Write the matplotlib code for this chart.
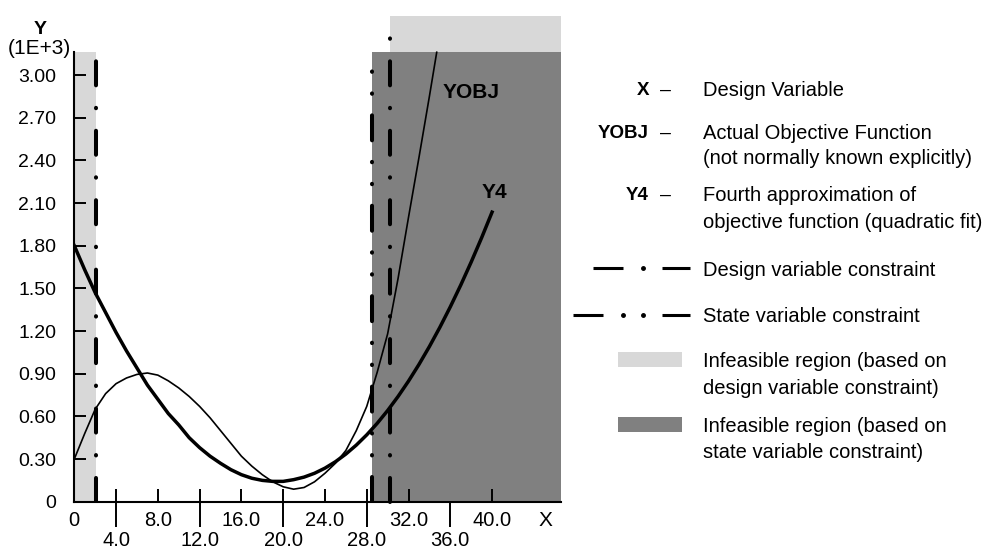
import matplotlib
matplotlib.use("Agg")
import matplotlib.pyplot as plt
from matplotlib.patches import Rectangle

plt.rcParams['font.family'] = ['Liberation Sans', 'DejaVu Sans']
plt.rcParams['lines.scale_dashes'] = False

# design variable X and the two objective curves (Y in units of 1E+3)
y4_x = list(range(0, 41))
y4_vals = [1.80, 1.63, 1.47, 1.33, 1.19, 1.06, 0.94, 0.82, 0.72, 0.62,
           0.54, 0.45, 0.38, 0.32, 0.27, 0.225, 0.19, 0.165, 0.15, 0.143,
           0.143, 0.155, 0.173, 0.20, 0.236, 0.281, 0.335, 0.398, 0.47, 0.551,
           0.641, 0.74, 0.848, 0.965, 1.091, 1.226, 1.37, 1.523, 1.685, 1.856,
           2.036]

yobj_x = list(range(0, 35)) + [34.7]
yobj_vals = [0.30, 0.48, 0.65, 0.76, 0.83, 0.87, 0.895, 0.905, 0.89, 0.85,
             0.80, 0.74, 0.67, 0.59, 0.50, 0.41, 0.32, 0.25, 0.19, 0.14,
             0.105, 0.088, 0.10, 0.14, 0.20, 0.27, 0.36, 0.50, 0.67, 0.91,
             1.18, 1.57, 2.00, 2.42, 2.85, 3.16]

# constraint locations
design_lo = 2.1
design_hi = 30.2
state_hi = 28.5
region_top = 3.165
design_top = 3.415
x_max = 46.6

yticks = [0, 0.3, 0.6, 0.9, 1.2, 1.5, 1.8, 2.1, 2.4, 2.7, 3.0]
ytick_labels = ["0", "0.30", "0.60", "0.90", "1.20", "1.50", "1.80",
                "2.10", "2.40", "2.70", "3.00"]
xticks_upper = [0, 8, 16, 24, 32, 40]
xticks_upper_labels = ["0", "8.0", "16.0", "24.0", "32.0", "40.0"]
xticks_lower = [4, 12, 20, 28, 36]
xticks_lower_labels = ["4.0", "12.0", "20.0", "28.0", "36.0"]

light = "#d8d8d8"
dark = "#808080"
design_dash = (17.3, 16.2, 0.3, 16.2)
state_dash = (18.0, 15.5, 0.3, 15.5, 0.3, 15.5)

fig = plt.figure(figsize=(10, 5.5), dpi=100)
ax = fig.add_axes([0.0743, 0.0878, 0.4867, 0.8831])
ax.set_xlim(0, x_max)
ax.set_ylim(0, design_top)
ax.patch.set_visible(False)

# infeasible regions
ax.add_patch(Rectangle((0, 0), design_lo, region_top, color=light, lw=0, zorder=0))
ax.add_patch(Rectangle((design_hi, 0), x_max - design_hi, design_top,
                       color=light, lw=0, zorder=0, clip_on=False))
ax.add_patch(Rectangle((state_hi, 0), x_max - state_hi, region_top,
                       color=dark, lw=0, zorder=1))

# constraint lines
ax.plot([design_lo, design_lo], [0, region_top], color="k", lw=2.9,
        dashes=design_dash, dash_capstyle="round", zorder=3)
ax.plot([design_hi, design_hi], [0, design_top], color="k", lw=2.9,
        dashes=design_dash, dash_capstyle="round", zorder=3, clip_on=False)
ax.plot([state_hi, state_hi], [0, region_top], color="k", lw=2.9,
        dashes=state_dash, dash_capstyle="round", zorder=3)

# curves
ax.plot(yobj_x, yobj_vals, color="k", lw=1.2, zorder=4)
ax.plot(y4_x, y4_vals, color="k", lw=2.5, zorder=4)
ax.text(35.3, 2.888, "YOBJ", fontsize=15, fontweight="bold",
        va="center_baseline", ha="left", zorder=5)
ax.text(39.0, 2.19, "Y4", fontsize=15, fontweight="bold",
        va="center_baseline", ha="left", zorder=5)

# axes styling
for side in ["top", "right"]:
    ax.spines[side].set_visible(False)
ax.spines["left"].set_bounds(0, region_top)
ax.spines["left"].set_linewidth(1.5)
ax.spines["bottom"].set_linewidth(1.5)
ax.spines["left"].set_zorder(2)
ax.spines["bottom"].set_zorder(2)

ax.set_yticks(yticks, ytick_labels)
ax.tick_params(axis="y", direction="in", length=8.6, width=1.4, pad=13,
               labelsize=14)

ax.set_xticks(xticks_upper, xticks_upper_labels)
ax.set_xticks(xticks_lower, xticks_lower_labels, minor=True)
ax.tick_params(axis="x", which="major", direction="in", length=9.4,
               width=1.4, pad=7.0, labelsize=14.5)
ax.tick_params(axis="x", which="minor", direction="out", length=18,
               width=1.4, pad=3.2, labelsize=14.5)

# inner half of the long ticks
sec = ax.secondary_xaxis("bottom")
sec.set_xticks(xticks_lower, labels=[])
sec.tick_params(direction="in", length=9.4, width=1.4)
sec.spines["bottom"].set_visible(False)

# overlay for titles and legend, in pixel units
lax = fig.add_axes([0, 0, 1, 1])
lax.set_xlim(0, 1000)
lax.set_ylim(550, 0)
lax.axis("off")

lax.text(40, 27, "Y", fontsize=14, fontweight="bold", ha="center",
         va="center_baseline")
lax.text(39, 46, "(1E+3)", fontsize=15, ha="center", va="center_baseline")
lax.text(545, 519, "X", fontsize=15, ha="center", va="center_baseline")

fs = 14.5
sym = [("X", 88.3), ("YOBJ", 131.7), ("Y4", 193.3)]
for name, yy in sym:
    lax.text(649, yy, name, fontsize=13.5, fontweight="bold", ha="right",
             va="center_baseline")
    lax.text(666, yy, "\u2013", fontsize=14, ha="center", va="center_baseline")

desc = [("Design Variable", 88.3),
        ("Actual Objective Function", 131.7),
        ("(not normally known explicitly)", 156.7),
        ("Fourth approximation of", 193.3),
        ("objective function (quadratic fit)", 220),
        ("Design variable constraint", 268.3),
        ("State variable constraint", 315),
        ("Infeasible region (based on", 359.3),
        ("design variable constraint)", 386),
        ("Infeasible region (based on", 424),
        ("state variable constraint)", 450)]
for txt, yy in desc:
    lax.text(703, yy, txt, fontsize=fs, ha="left", va="center_baseline")

# legend line symbols
yy = 268.3
lax.plot([593, 623], [yy, yy], color="k", lw=2.2, solid_capstyle="butt")
lax.plot([643], [yy], "o", color="k", ms=2.5)
lax.plot([662, 690], [yy, yy], color="k", lw=2.2, solid_capstyle="butt")
yy = 315
lax.plot([573, 603], [yy, yy], color="k", lw=2.2, solid_capstyle="butt")
lax.plot([623, 643], [yy, yy], "o", color="k", ms=2.5)
lax.plot([662, 690], [yy, yy], color="k", lw=2.2, solid_capstyle="butt")

lax.add_patch(Rectangle((618, 351.7), 64, 15, color=light, lw=0))
lax.add_patch(Rectangle((618, 416.7), 64, 15, color=dark, lw=0))

fig.savefig("out.png", dpi=100)
